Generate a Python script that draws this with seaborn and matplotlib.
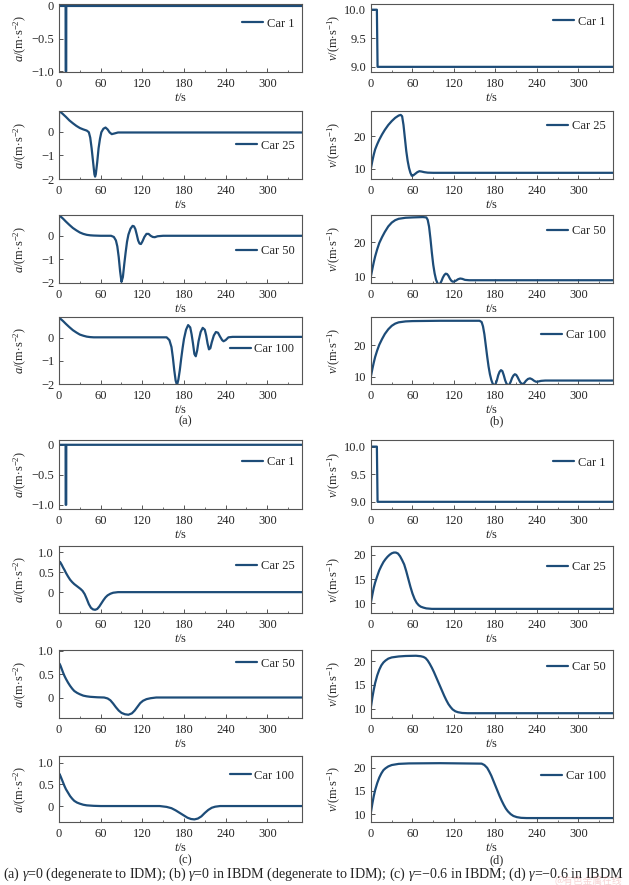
import numpy as np
import matplotlib
matplotlib.use("Agg")
import matplotlib.pyplot as plt
import seaborn as sns

sns.set_style("ticks")
plt.rcParams['font.family'] = ['Liberation Serif', 'DejaVu Serif']
plt.rcParams['mathtext.fontset'] = 'custom'
plt.rcParams['mathtext.rm'] = 'Liberation Serif'
plt.rcParams['mathtext.it'] = 'Liberation Serif:italic'
plt.rcParams['axes.unicode_minus'] = True

# ---------------- data (t [s], value) ----------------
a_car1 = [(0, 0), (9.5, 0), (9.6, -1.0), (10.4, -1.0), (10.5, 0), (350, 0)]
a_car25 = [(0, 0), (0, 0.86), (3, 0.82), (6, 0.74), (10, 0.63), (15, 0.48), (20, 0.36), (25, 0.25),
           (30, 0.16), (35, 0.10), (40, 0.05), (43, -0.02), (45, -0.25), (47, -0.7), (49, -1.25),
           (51, -1.8), (52, -1.9), (53, -1.8), (55, -1.3), (57, -0.7), (59, -0.3), (61, -0.02),
           (64, 0.13), (67, 0.18), (70, 0.1), (73, -0.03), (76, -0.1), (80, -0.07), (85, -0.03), (350, -0.03)]
a_car50 = [(0, 0), (0, 0.87), (3, 0.8), (6, 0.72), (10, 0.6), (15, 0.46), (20, 0.33), (25, 0.23),
           (30, 0.14), (35, 0.08), (40, 0.04), (45, 0.02), (50, 0.01), (60, 0), (75, 0), (79, -0.05),
           (82, -0.2), (84, -0.45), (86, -0.9), (88, -1.5), (90, -1.95), (92, -1.75), (94, -1.2),
           (96, -0.7), (98, -0.25), (100, 0.05), (103, 0.3), (106, 0.42), (108, 0.4), (110, 0.28),
           (112, 0.05), (114, -0.2), (116, -0.33), (118, -0.35), (120, -0.25), (123, -0.05), (126, 0.08),
           (129, 0.08), (132, 0.0), (135, -0.05), (138, -0.06), (142, -0.02), (150, 0), (350, 0)]
a_car100 = [(0, 0), (0, 0.88), (3, 0.8), (6, 0.72), (10, 0.6), (15, 0.46), (20, 0.33), (25, 0.23),
            (30, 0.14), (35, 0.09), (40, 0.05), (45, 0.03), (50, 0.02), (60, 0.02), (155, 0.02),
            (159, -0.1), (162, -0.4), (164, -0.85), (166, -1.4), (168, -1.85), (170, -2.05), (172, -1.8),
            (174, -1.4), (176, -0.9), (178, -0.45), (180, -0.05), (183, 0.35), (186, 0.55), (189, 0.45),
            (191, 0.15), (193, -0.25), (195, -0.7), (197, -0.8), (199, -0.55), (201, -0.15), (204, 0.25),
            (207, 0.43), (210, 0.35), (212, 0.1), (214, -0.25), (216, -0.5), (218, -0.45), (220, -0.2),
            (223, 0.1), (226, 0.25), (229, 0.22), (232, 0.05), (235, -0.1), (237, -0.15), (240, -0.1),
            (244, 0.02), (250, 0.04), (350, 0.04)]

b_car1 = [(0, 10), (8.5, 10), (9.5, 9), (350, 9)]
b_car25 = [(0, 10.3), (2, 12.5), (4, 14.4), (6, 16), (9, 17.6), (12, 19), (16, 20.6), (20, 22),
           (25, 23.5), (30, 24.7), (35, 25.7), (40, 26.4), (43, 26.6), (45, 26.2), (47, 23.5), (49, 19.5),
           (51, 15.5), (53, 12.5), (55, 10.3), (57, 8.8), (59, 7.9), (61, 8.0), (64, 8.5), (67, 9.0),
           (70, 9.3), (73, 9.2), (77, 9.0), (82, 8.85), (90, 8.8), (350, 8.8)]
b_car50 = [(0, 10.3), (2, 12.3), (4, 14.2), (6, 15.9), (9, 18), (12, 19.8), (16, 21.5), (20, 23),
           (25, 24.6), (30, 25.7), (35, 26.4), (40, 26.8), (50, 27.1), (60, 27.2), (75, 27.3), (80, 27.2),
           (82, 26.5), (84, 24.5), (86, 21), (88, 17), (90, 13.5), (92, 11), (94, 9.2), (96, 8.2),
           (98, 7.8), (100, 8.0), (102, 8.8), (104, 9.8), (106, 10.5), (108, 10.9), (110, 10.8),
           (112, 10.3), (114, 9.5), (116, 8.9), (118, 8.6), (120, 8.6), (123, 8.9), (126, 9.3),
           (129, 9.5), (132, 9.4), (136, 9.1), (142, 9.0), (150, 9.0), (350, 9.0)]
b_car100 = [(0, 10.3), (2, 12.5), (4, 14.5), (6, 16.3), (9, 18.4), (12, 20.2), (16, 22), (20, 23.6),
            (25, 25.1), (30, 26.2), (35, 26.9), (40, 27.3), (50, 27.6), (60, 27.7), (100, 27.8),
            (157, 27.8), (160, 27.4), (162, 26), (164, 23.5), (166, 20), (168, 16.5), (170, 13.3),
            (172, 10.8), (174, 9), (176, 7.8), (178, 7.3), (180, 7.6), (182, 8.8), (184, 10.5),
            (186, 11.6), (188, 12.1), (190, 11.8), (192, 10.5), (194, 8.9), (196, 7.8), (198, 7.3),
            (200, 7.5), (202, 8.4), (204, 9.6), (206, 10.4), (208, 10.8), (210, 10.6), (212, 9.9),
            (214, 9.0), (216, 8.2), (218, 7.8), (220, 7.7), (222, 8.1), (224, 8.7), (227, 9.3),
            (230, 9.5), (233, 9.2), (236, 8.7), (239, 8.4), (242, 8.5), (246, 8.7), (252, 8.8), (350, 8.8)]

c_car1 = [(0, 0), (9.5, 0), (9.6, -1.0), (10.4, -1.0), (10.5, 0), (350, 0)]
c_car25 = [(0, 0), (0, 0.77), (2, 0.74), (4, 0.68), (6, 0.61), (8, 0.55), (10, 0.48), (13, 0.39),
           (16, 0.31), (19, 0.25), (22, 0.2), (25, 0.16), (28, 0.12), (31, 0.08), (34, 0.03),
           (37, -0.05), (40, -0.17), (43, -0.3), (46, -0.39), (49, -0.43), (52, -0.44), (55, -0.42),
           (58, -0.36), (61, -0.28), (64, -0.2), (67, -0.13), (70, -0.08), (74, -0.04), (78, -0.015),
           (85, 0), (350, 0)]
c_car50 = [(0, 0), (0, 0.74), (2, 0.69), (4, 0.61), (6, 0.53), (8, 0.46), (10, 0.4), (13, 0.32),
           (16, 0.25), (19, 0.19), (22, 0.14), (26, 0.1), (30, 0.07), (35, 0.04), (40, 0.025),
           (45, 0.015), (55, 0.005), (65, 0), (70, -0.02), (74, -0.06), (78, -0.13), (82, -0.21),
           (86, -0.28), (90, -0.33), (95, -0.36), (100, -0.37), (105, -0.34), (109, -0.28),
           (113, -0.2), (117, -0.12), (121, -0.07), (126, -0.035), (132, -0.015), (140, 0), (350, 0)]
c_car100 = [(0, 0), (0, 0.76), (2, 0.7), (4, 0.62), (6, 0.54), (8, 0.46), (10, 0.39), (13, 0.31),
            (16, 0.23), (19, 0.17), (22, 0.12), (26, 0.08), (30, 0.055), (35, 0.03), (40, 0.016),
            (50, 0.005), (60, 0), (145, 0), (155, -0.02), (162, -0.05), (168, -0.1), (174, -0.16),
            (180, -0.22), (185, -0.27), (190, -0.3), (195, -0.31), (200, -0.29), (205, -0.24),
            (210, -0.16), (215, -0.09), (220, -0.04), (225, -0.015), (232, 0), (350, 0)]

d_car1 = [(0, 10), (8.5, 10), (9.5, 9), (350, 9)]
d_car25 = [(0, 10.3), (2, 11.8), (4, 13.2), (6, 14.3), (9, 15.6), (12, 16.8), (15, 17.7), (18, 18.5),
           (21, 19.1), (24, 19.6), (27, 20), (30, 20.3), (33, 20.45), (36, 20.45), (39, 20.25),
           (42, 19.7), (45, 18.9), (48, 18.0), (51, 16.6), (54, 15.0), (57, 13.4), (60, 12.0),
           (63, 10.9), (66, 10.1), (69, 9.6), (72, 9.3), (76, 9.1), (80, 8.95), (88, 8.85), (350, 8.85)]
d_car50 = [(0, 10.5), (2, 12.4), (4, 14), (6, 15.4), (9, 17), (12, 18.2), (15, 19.1), (18, 19.7),
           (21, 20.1), (25, 20.5), (30, 20.75), (40, 20.95), (50, 21.05), (65, 21.1), (72, 21.0),
           (76, 20.85), (79, 20.6), (82, 20.1), (85, 19.4), (88, 18.6), (91, 17.7), (94, 16.7),
           (97, 15.7), (100, 14.7), (103, 13.7), (106, 12.7), (109, 11.8), (112, 11.0), (115, 10.4),
           (118, 9.9), (122, 9.5), (126, 9.3), (132, 9.15), (140, 9.1), (350, 9.1)]
d_car100 = [(0, 10.5), (2, 12.3), (4, 13.9), (6, 15.2), (9, 16.7), (12, 17.9), (15, 18.8), (18, 19.5),
            (21, 19.9), (25, 20.3), (30, 20.6), (40, 20.85), (55, 20.95), (100, 21.0), (160, 20.9),
            (164, 20.6), (168, 20.0), (171, 19.2), (174, 18.3), (177, 17.2), (180, 16.1), (183, 15.0),
            (186, 13.9), (189, 12.9), (192, 12.0), (195, 11.2), (198, 10.6), (202, 10.0), (206, 9.6),
            (211, 9.35), (217, 9.2), (225, 9.15), (350, 9.15)]

car_labels = ["Car 1", "Car 25", "Car 50", "Car 100"]
x_ticks = [0, 60, 120, 180, 240, 300]

# per-panel y axis settings: (ylim, ticks, tick labels)
a_upper_ylims = [(-1.01, 0.03), (-2.0, 0.88), (-2.0, 0.88), (-2.0, 0.9)]
a_upper_ticks = [[-1.0, -0.5, 0], [-2, -1, 0], [-2, -1, 0], [-2, -1, 0]]
a_upper_ticklabels = [["\u22121.0", "\u22120.5", "0"], ["\u22122", "\u22121", "0"],
                      ["\u22122", "\u22121", "0"], ["\u22122", "\u22121", "0"]]
b_ylims = [(8.91, 10.1), (6.9, 27.8), (8.2, 27.9), (7.7, 29.0)]
b_ticks = [[9.0, 9.5, 10.0], [10, 20], [10, 20], [10, 20]]
b_ticklabels = [["9.0", "9.5", "10.0"], ["10", "20"], ["10", "20"], ["10", "20"]]
c_ylims = [(-1.07, 0.08), (-0.52, 1.15), (-0.44, 1.02), (-0.37, 1.16)]
c_ticks = [[-1.0, -0.5, 0], [0, 0.5, 1.0], [0, 0.5, 1.0], [0, 0.5, 1.0]]
c_ticklabels = [["\u22121.0", "\u22120.5", "0"], ["0", "0.5", "1.0"], ["0", "0.5", "1.0"], ["0", "0.5", "1.0"]]
d_ylims = [(8.87, 10.12), (8.0, 21.8), (8.1, 22.3), (8.3, 22.55)]
d_ticks = [[9.0, 9.5, 10.0], [10, 15, 20], [10, 15, 20], [10, 15, 20]]
d_ticklabels = [["9.0", "9.5", "10.0"], ["10", "15", "20"], ["10", "15", "20"], ["10", "15", "20"]]

legend_y = {
    'a': [0.71, 0.49, 0.47, 0.52],
    'b': [0.74, 0.78, 0.76, 0.73],
    'c': [0.68, 0.70, 0.80, 0.70],
    'd': [0.67, 0.68, 0.75, 0.69],
}

# ---------------- layout ----------------
W, H = 629, 885
fig = plt.figure(figsize=(W / 100, H / 100), dpi=100)

rows_px = [(4, 72), (111, 179), (215, 283), (317, 384), (440, 509), (546, 613), (650, 718), (756, 822)]
cols_px = [(59, 302), (371, 613)]
ylabel_x = [-0.123, -0.116]

LINE_C = "#1d4c78"
SPINE_C = "#555555"
FS = 9

a_label = r"$a$/(m$\cdot$s$^{-2}$)"
v_label = r"$v$/(m$\cdot$s$^{-1}$)"


def make_ax(r, c):
    (x0, x1) = cols_px[c]
    (t0, t1) = rows_px[r]
    return fig.add_axes([x0 / W, 1 - t1 / H, (x1 - x0) / W, (t1 - t0) / H])


def draw(ax, series, label, ylim, ticks, ticklabels, ylabel, leg_y, col):
    arr = np.array(series, dtype=float)
    sns.lineplot(x=arr[:, 0], y=arr[:, 1], ax=ax, estimator=None, sort=False,
                 color=LINE_C, lw=1.6, label=label)
    ax.set_xlim(0, 350)
    ax.set_ylim(*ylim)
    ax.set_xticks(x_ticks)
    ax.set_xticklabels([str(v) for v in x_ticks], fontsize=FS)
    ax.set_xticks(np.arange(30, 350, 60), minor=True)
    ax.set_yticks(ticks)
    ax.set_yticklabels(ticklabels, fontsize=FS)
    ax.tick_params(axis='x', which='major', direction='in', length=3, width=0.7,
                   color=SPINE_C, pad=4.5)
    ax.tick_params(axis='y', which='major', direction='in', length=3, width=0.7,
                   color=SPINE_C, pad=3.5)
    ax.tick_params(axis='x', which='minor', direction='in', length=1.5, width=0.6, color=SPINE_C)
    for s in ax.spines.values():
        s.set_color(SPINE_C)
        s.set_linewidth(0.8)
    ax.set_xlabel(r"$t$/s", fontsize=FS, labelpad=1)
    ax.set_ylabel(ylabel, fontsize=FS)
    ax.yaxis.set_label_coords(ylabel_x[col], 0.5)
    ax.legend(loc='center right', bbox_to_anchor=(1.0, leg_y), frameon=False, fontsize=FS,
              handlelength=1.7, handletextpad=0.3, borderaxespad=0.2)


groups = [
    ('a', 0, 0, [a_car1, a_car25, a_car50, a_car100], a_upper_ylims, a_upper_ticks, a_upper_ticklabels, a_label),
    ('b', 0, 1, [b_car1, b_car25, b_car50, b_car100], b_ylims, b_ticks, b_ticklabels, v_label),
    ('c', 4, 0, [c_car1, c_car25, c_car50, c_car100], c_ylims, c_ticks, c_ticklabels, a_label),
    ('d', 4, 1, [d_car1, d_car25, d_car50, d_car100], d_ylims, d_ticks, d_ticklabels, v_label),
]

for key, r0, col, series_list, ylims, ticks, tls, ylab in groups:
    for i in range(4):
        ax = make_ax(r0 + i, col)
        draw(ax, series_list[i], car_labels[i], ylims[i], ticks[i], tls[i], ylab, legend_y[key][i], col)

# panel letters
fig.text(185 / W, 1 - 421 / H, "(a)", ha='center', va='center', fontsize=FS)
fig.text(497 / W, 1 - 421 / H, "(b)", ha='center', va='center', fontsize=FS)
fig.text(185 / W, 1 - 860 / H, "(c)", ha='center', va='center', fontsize=FS)
fig.text(497 / W, 1 - 860 / H, "(d)", ha='center', va='center', fontsize=FS)

caption = (r"(a) $\gamma$=0 (degenerate to IDM); (b) $\gamma$=0 in IBDM (degenerate to IDM); "
           r"(c) $\gamma$=$-$0.6 in IBDM; (d) $\gamma$=$-$0.6 in IBDM")
fig.text(3 / W, 1 - 874 / H, caption, ha='left', va='center', fontsize=10.1)
fig.text(622 / W, 1 - 881 / H, "@有色金属在线", ha='right', va='center', fontsize=7,
         color='#e07070', alpha=0.3, family=['Noto Sans CJK SC', 'DejaVu Sans'])

fig.savefig("out.png", dpi=100)
